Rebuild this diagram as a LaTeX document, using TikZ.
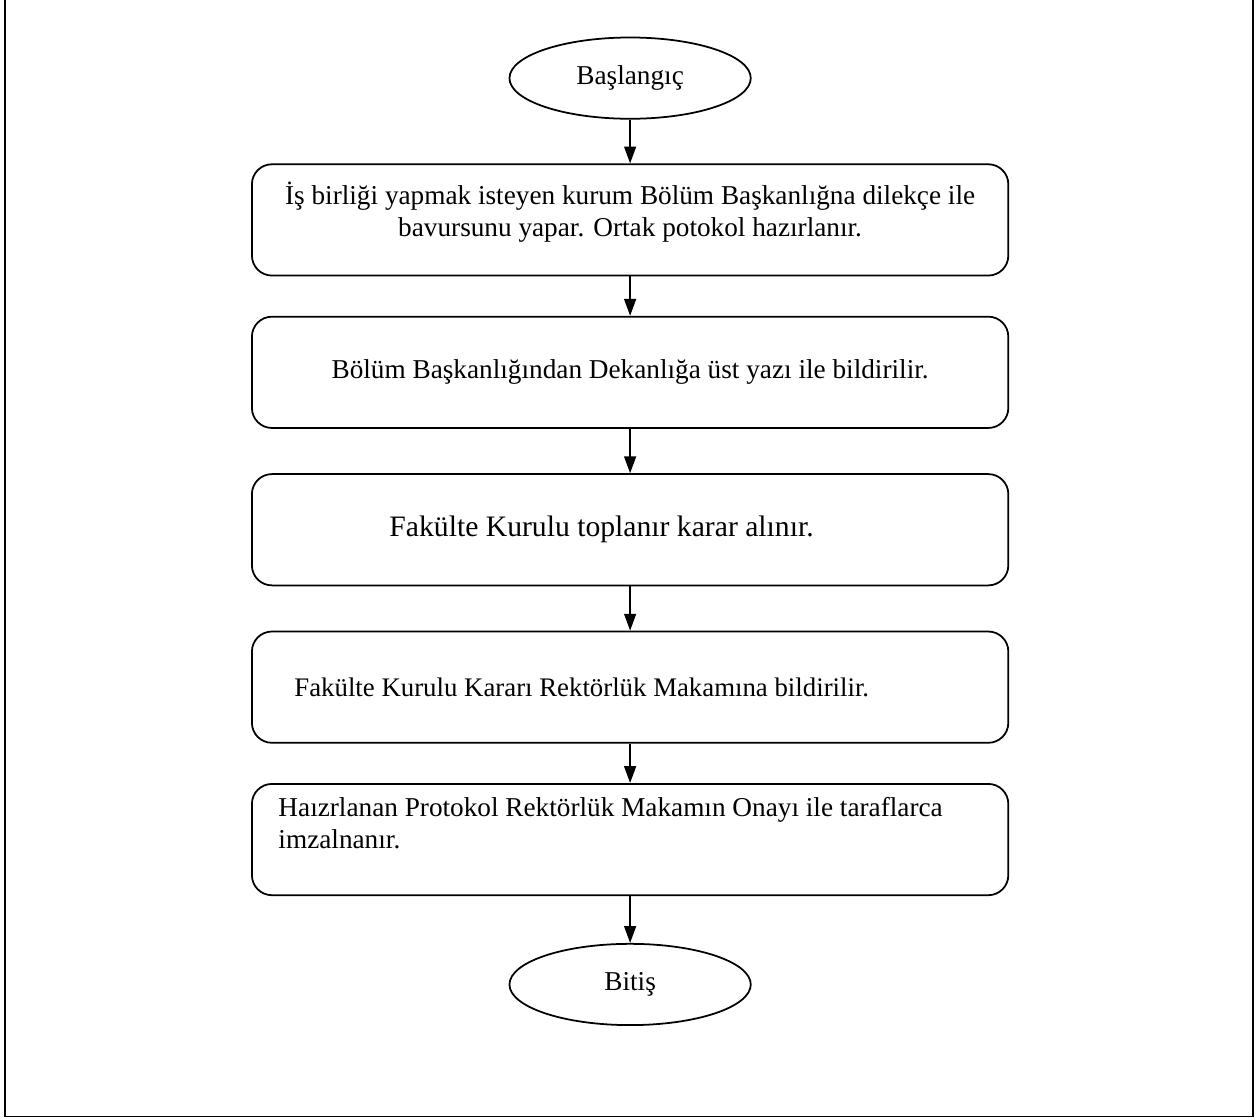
\documentclass[tikz,border=0pt]{standalone}
\usepackage{fontspec}
\setmainfont{Liberation Serif}
\usetikzlibrary{shapes,arrows.meta,positioning}

\begin{document}
\begin{tikzpicture}[
    node distance=0.63cm,
    font=\fontsize{12.4pt}{14.6pt}\selectfont,
    box/.style={rectangle, rounded corners=0.32cm, draw, thick, minimum width=12.1cm, minimum height=1.78cm, align=center, inner sep=0.1cm},
    term/.style={ellipse, draw, thick, minimum width=3.86cm, minimum height=1.3cm, inner sep=0pt},
    arrow/.style={-{Triangle[length=0.27cm, width=0.19cm]}, thick}
]

% Frame (open at the top)
\useasboundingbox (-10.08,1.25) rectangle (10.06,-16.66);
\draw[thick] (-10.0,1.3) -- (-10.0,-16.61) -- (9.97,-16.61) -- (9.97,1.3);

% Main path
\node[term] (start) {Başlangıç};
\node[box, below=0.70cm of start] (apply) {İş birliği yapmak isteyen kurum Bölüm Başkanlığna dilekçe ile\\bavursunu yapar. Ortak potokol hazırlanır.\rule[-0.335cm]{0pt}{0pt}};
\node[box, below=of apply] (notify) {Bölüm Başkanlığından Dekanlığa üst yazı ile bildirilir.};
\node[box, below=0.71cm of notify, align=flush left, text width=7.7cm, font=\fontsize{13.5pt}{16pt}\selectfont] (board) {Fakülte Kurulu toplanır karar alınır.};
\node[box, below=0.71cm of board, align=flush left, text width=10.74cm, font=\fontsize{12.2pt}{14.6pt}\selectfont] (rector) {Fakülte Kurulu Kararı Rektörlük Makamına bildirilir.};
\node[box, below=of rector, align=flush left, text width=11.25cm] (sign) {Haızrlanan Protokol Rektörlük Makamın Onayı ile taraflarca\\imzalnanır.\rule[-0.54cm]{0pt}{0pt}};
\node[term, below=0.75cm of sign] (stop) {Bitiş};

% Arrows
\draw[arrow] (start) -- (apply);
\draw[arrow] (apply) -- (notify);
\draw[arrow] (notify) -- (board);
\draw[arrow] (board) -- (rector);
\draw[arrow] (rector) -- (sign);
\draw[arrow] (sign) -- (stop);

\end{tikzpicture}
\end{document}
